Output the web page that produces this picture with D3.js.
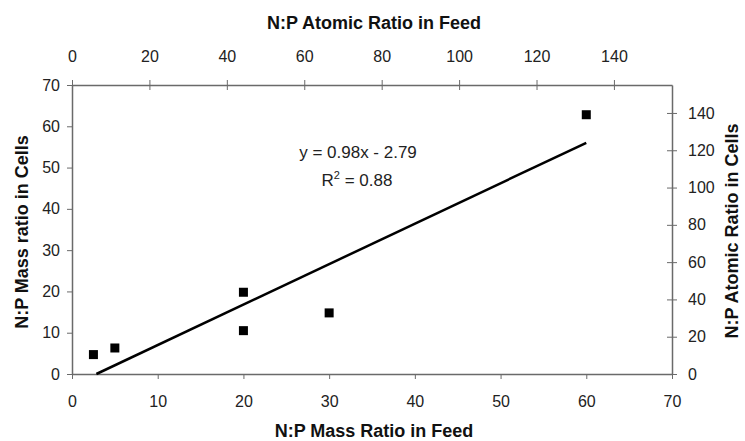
<!DOCTYPE html>
<html>
<head>
<meta charset="utf-8">
<script src="https://cdn.jsdelivr.net/npm/d3@7"></script>
<style>
  body { margin: 0; background: #fff; }
  svg { font-family: "Liberation Sans", Arial, sans-serif; }
  .title { font-size: 18px; font-weight: bold; fill: #111; }
</style>
</head>
<body>
<svg width="745" height="441"></svg>
<script>
// mass ratio in feed vs mass ratio in cells
let feedMass = [2.5, 5, 20, 20, 30, 60];
let cellMass = [4.7, 6.3, 19.8, 10.5, 14.8, 62.8];
let massTicks = [0, 10, 20, 30, 40, 50, 60, 70];
let atomicTicks = [0, 20, 40, 60, 80, 100, 120, 140];
let slope = 0.98, intercept = -2.79, rSquared = 0.88;
let atomicFactor = 31 / 14; // N:P mass -> atomic

let svg = d3.select("svg");
let plotLeft = 72, plotRight = 672, plotTop = 85, plotBottom = 374;

let x = d3.scaleLinear().domain([0, 70]).range([plotLeft, plotRight]);
let y = d3.scaleLinear().domain([0, 70]).range([plotBottom, plotTop]);
let xTop = d3.scaleLinear().domain([0, 70 * atomicFactor]).range([plotLeft, plotRight]);
let yRight = d3.scaleLinear().domain([0, 70 * atomicFactor]).range([plotBottom, plotTop]);

function styleAxis(g) {
  g.select(".domain").attr("stroke", "#6a6a6a").attr("stroke-width", 1.5);
  g.selectAll(".tick line").attr("stroke", "#6a6a6a").attr("stroke-width", 1);
  g.selectAll(".tick text").attr("font-size", 16).attr("fill", "#222");
  g.attr("font-family", null).attr("font-size", null);
}

let gBottom = svg.append("g")
  .attr("transform", "translate(0," + plotBottom + ")")
  .call(d3.axisBottom(x).tickValues(massTicks).tickSize(5).tickSizeOuter(0))
  .call(styleAxis);
gBottom.selectAll(".tick text").attr("y", 33).attr("dy", 0);

let gLeft = svg.append("g")
  .attr("transform", "translate(" + plotLeft + ",0)")
  .call(d3.axisLeft(y).tickValues(massTicks).tickSize(5).tickSizeOuter(0))
  .call(styleAxis);
gLeft.selectAll(".tick text").attr("x", -12);

let gTop = svg.append("g")
  .attr("transform", "translate(0," + plotTop + ")")
  .call(d3.axisTop(xTop).tickValues(atomicTicks).tickSize(5).tickSizeOuter(0))
  .call(styleAxis);
gTop.selectAll(".tick line").attr("y2", -5).attr("y1", 5);
gTop.selectAll(".tick text").attr("y", -23).attr("dy", 0);

let gRight = svg.append("g")
  .attr("transform", "translate(" + plotRight + ",0)")
  .call(d3.axisRight(yRight).tickValues(atomicTicks).tickSize(5).tickSizeOuter(0))
  .call(styleAxis);
gRight.selectAll(".tick line").attr("x1", -5);
gRight.selectAll(".tick text").attr("x", 16);

// trend line
let x0 = -intercept / slope, x1 = 60;
svg.append("line")
  .attr("x1", x(x0)).attr("y1", y(slope * x0 + intercept))
  .attr("x2", x(x1)).attr("y2", y(slope * x1 + intercept))
  .attr("stroke", "#000").attr("stroke-width", 2.5);

// points
svg.selectAll(".pt")
  .data(feedMass)
  .enter()
  .append("rect")
  .attr("class", "pt")
  .attr("width", 9).attr("height", 9)
  .attr("x", function (d) { return x(d) - 4.5; })
  .attr("y", function (d, i) { return y(cellMass[i]) - 4.5; })
  .attr("fill", "#000");

// equation
svg.append("text").attr("x", 358).attr("y", 158)
  .attr("text-anchor", "middle").attr("font-size", 17).attr("fill", "#222")
  .text("y = " + slope.toFixed(2) + "x  - " + Math.abs(intercept).toFixed(2));
let r2 = svg.append("text").attr("x", 357).attr("y", 186)
  .attr("text-anchor", "middle").attr("font-size", 17).attr("fill", "#222");
r2.append("tspan").text("R");
r2.append("tspan").attr("dy", -7).attr("font-size", 11).text("2");
r2.append("tspan").attr("dy", 7).text(" = " + rSquared.toFixed(2));

// axis titles
svg.append("text").attr("class", "title").attr("x", 374).attr("y", 29)
  .attr("text-anchor", "middle").text("N:P Atomic Ratio in Feed");
svg.append("text").attr("class", "title").attr("x", 374).attr("y", 437)
  .attr("text-anchor", "middle").text("N:P Mass Ratio in Feed");
svg.append("text").attr("class", "title")
  .attr("transform", "translate(28,232) rotate(-90)")
  .attr("text-anchor", "middle").text("N:P Mass ratio in Cells");
svg.append("text").attr("class", "title")
  .attr("transform", "translate(738,231) rotate(-90)")
  .attr("text-anchor", "middle").text("N:P Atomic Ratio in Cells");
</script>
</body>
</html>
